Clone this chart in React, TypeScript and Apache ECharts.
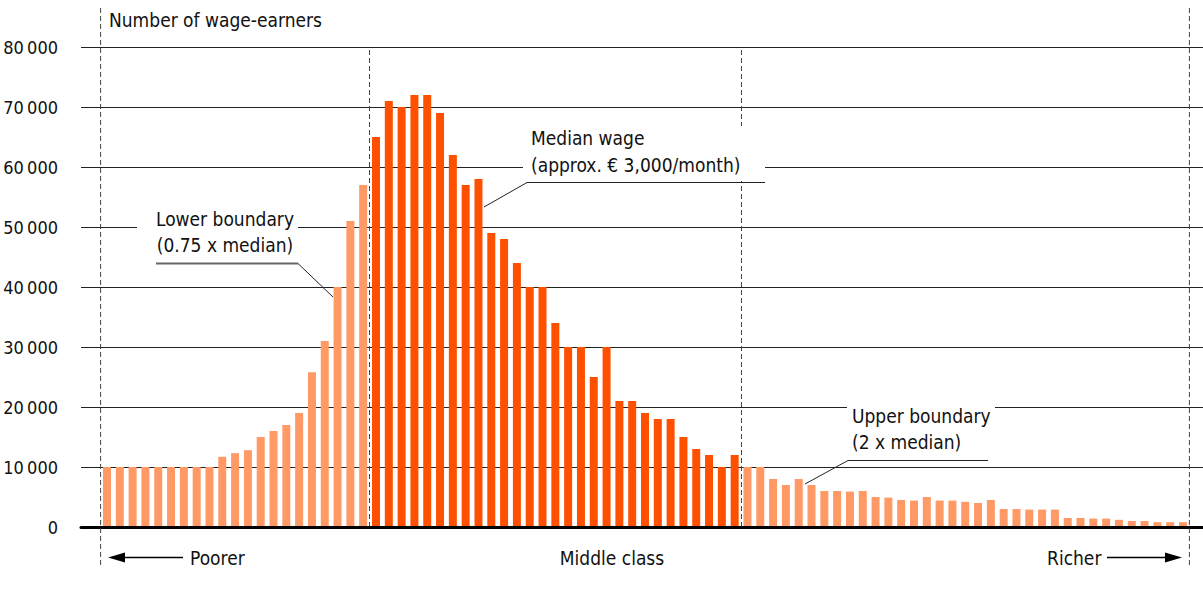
import React, { useEffect, useRef } from "react";
import * as echarts from "echarts";

// Number of wage-earners per wage bracket (left to right)
const poorerValues = [
  10000, 10000, 10000, 10000, 10000, 10000, 10000, 10000, 10000, 11700, 12300,
  12800, 15000, 16000, 17000, 19000, 25800, 31000, 40000, 51000, 57000,
];
const middleValues = [
  65000, 71000, 70000, 72000, 72000, 69000, 62000, 57000, 58000, 49000, 48000,
  44000, 40000, 40000, 34000, 30000, 30000, 25000, 30000, 21000, 21000, 19000,
  18000, 18000, 15000, 13000, 12000, 10000, 12000,
];
const richerValues = [
  10000, 10000, 8000, 7000, 8000, 7000, 6000, 6000, 5900, 6000, 5000, 4900, 4500,
  4400, 5000, 4400, 4400, 4200, 4000, 4500, 3000, 3000, 2900, 2900, 2900, 1500,
  1500, 1400, 1400, 1200, 1000, 1000, 800, 800, 800,
];
const yTicks = [0, 10000, 20000, 30000, 40000, 50000, 60000, 70000, 80000];

const yAxisTitle = "Number of wage-earners";
const lowerLabel = ["Lower boundary", "(0.75 x median)"];
const medianLabel = ["Median wage", "(approx. € 3,000/month)"];
const upperLabel = ["Upper boundary", "(2 x median)"];
const bottomLabels = ["Poorer", "Middle class", "Richer"];

const LIGHT = "#FF9966";
const DARK = "#FF5000";
const FONT_FAMILY = '"DejaVu Sans Condensed", Roboto, sans-serif';
const FONT = `19px ${FONT_FAMILY}`;
const TEXT = "#111";

const W = 1203;
const H = 603;
const PLOT_TOP = 47;
const PLOT_BOTTOM = 527;
const BAR_LEFT = 100.6;
const BAR_RIGHT = 1189.4;
const GRIDLINE_LEFT = 81;

function fmt(v: number): string {
  return String(v).replace(/\B(?=(\d{3})+(?!\d))/g, "\u2009");
}

function txt(text: string, x: number, y: number, align = "left") {
  return {
    type: "text",
    z: 101,
    silent: true,
    style: {
      text,
      x,
      y,
      fill: TEXT,
      font: FONT,
      textAlign: align,
      align,
      textVerticalAlign: "middle",
      verticalAlign: "middle",
    },
  };
}
function whiteRect(x: number, y: number, w: number, h: number) {
  return {
    type: "rect",
    z: 100,
    silent: true,
    shape: { x, y, width: w, height: h },
    style: { fill: "#fff" },
  };
}
function seg(x1: number, y1: number, x2: number, y2: number, color = "#222", w = 1) {
  return {
    type: "line",
    z: 101,
    silent: true,
    shape: { x1, y1, x2, y2 },
    style: { stroke: color, lineWidth: w },
  };
}

export default function App() {
  const ref = useRef<HTMLDivElement>(null);

  useEffect(() => {
    if (!ref.current) return;
    const chart = echarts.init(ref.current, null, { renderer: "svg" });

    const all = [...poorerValues, ...middleValues, ...richerValues];
    const n = all.length;
    const midStart = poorerValues.length;
    const midEnd = poorerValues.length + middleValues.length;
    const barData = all.map((v, i) => ({
      value: [i, v],
      itemStyle: { color: i >= midStart && i < midEnd ? DARK : LIGHT },
    }));

    const yMax = yTicks[yTicks.length - 1];
    const yInterval = yTicks[1] - yTicks[0];

    chart.setOption({
      animation: false,
      grid: [
        {
          left: BAR_LEFT,
          right: W - BAR_RIGHT,
          top: PLOT_TOP,
          bottom: H - PLOT_BOTTOM,
        },
        {
          left: GRIDLINE_LEFT,
          right: 0,
          top: PLOT_TOP,
          bottom: H - PLOT_BOTTOM,
        },
      ],
      xAxis: [
        {
          type: "value",
          gridIndex: 0,
          min: -0.5,
          max: n - 0.5,
          show: false,
        },
        {
          type: "value",
          gridIndex: 1,
          min: 0,
          max: 1,
          z: 5,
          axisLine: { show: true, lineStyle: { color: "#000", width: 3 } },
          axisTick: { show: false },
          axisLabel: { show: false },
          splitLine: { show: false },
        },
      ],
      yAxis: [
        {
          type: "value",
          gridIndex: 0,
          min: 0,
          max: yMax,
          interval: yInterval,
          show: false,
        },
        {
          type: "value",
          gridIndex: 1,
          min: 0,
          max: yMax,
          interval: yInterval,
          axisLine: { show: false },
          axisTick: { show: false },
          axisLabel: {
            margin: 23,
            color: TEXT,
            fontSize: 18,
            fontFamily: FONT_FAMILY,
            formatter: (v: number) => fmt(v),
          },
          splitLine: { show: true, lineStyle: { color: "#222", width: 1 } },
        },
      ],
      series: [
        {
          type: "bar",
          xAxisIndex: 0,
          yAxisIndex: 0,
          barWidth: 8,
          data: barData,
          markLine: {
            silent: true,
            symbol: "none",
            label: { show: false },
            lineStyle: { color: "#444", type: [5, 3], width: 1 },
            data: [{ xAxis: midStart - 0.5 }, { xAxis: midEnd - 0.5 }],
          },
        },
      ],
    });

    const xL = chart.convertToPixel({ xAxisIndex: 0 }, -0.5) as number;
    const xR = chart.convertToPixel({ xAxisIndex: 0 }, n - 0.5) as number;
    const dash = (x: number) => ({
      type: "line",
      z: 50,
      silent: true,
      shape: { x1: x, y1: 8, x2: x, y2: 565 },
      style: { stroke: "#444", lineWidth: 1, lineDash: [5, 3] },
    });
    const arrowY = 557.5;

    chart.setOption({
      graphic: [
        dash(xL),
        dash(xR),
        txt(yAxisTitle, 109, 20),
        // lower boundary
        whiteRect(137, 206, 161, 52),
        txt(lowerLabel[0], 225, 219, "center"),
        txt(lowerLabel[1], 225, 245, "center"),
        seg(156, 263.5, 298, 263.5, "#666", 2),
        seg(298, 263.5, 333, 297),
        // median
        whiteRect(523, 126, 242, 55),
        txt(medianLabel[0], 531, 138),
        txt(medianLabel[1], 531, 165),
        seg(527, 182.5, 765, 182.5),
        seg(527, 182.5, 484, 207),
        // upper boundary
        whiteRect(847, 400, 148, 56),
        txt(upperLabel[0], 852, 416),
        txt(upperLabel[1], 852, 442),
        seg(848, 460.5, 988, 460.5),
        seg(848, 460.5, 805, 484),
        // bottom labels and arrows
        txt(bottomLabels[0], 190, arrowY),
        seg(122, arrowY, 183, arrowY, "#000", 1.5),
        {
          type: "polygon",
          z: 101,
          silent: true,
          shape: { points: [[108, arrowY], [125, arrowY - 5], [125, arrowY + 5]] },
          style: { fill: "#000" },
        },
        txt(bottomLabels[1], 612, arrowY, "center"),
        txt(bottomLabels[2], 1047, arrowY),
        seg(1107, arrowY, 1168, arrowY, "#000", 1.5),
        {
          type: "polygon",
          z: 101,
          silent: true,
          shape: { points: [[1182, arrowY], [1165, arrowY - 5], [1165, arrowY + 5]] },
          style: { fill: "#000" },
        },
      ],
    });

    return () => chart.dispose();
  }, []);

  return (
    <div
      ref={ref}
      style={{ position: "absolute", left: 0, top: 0, width: W, height: H, background: "#fff" }}
    />
  );
}
